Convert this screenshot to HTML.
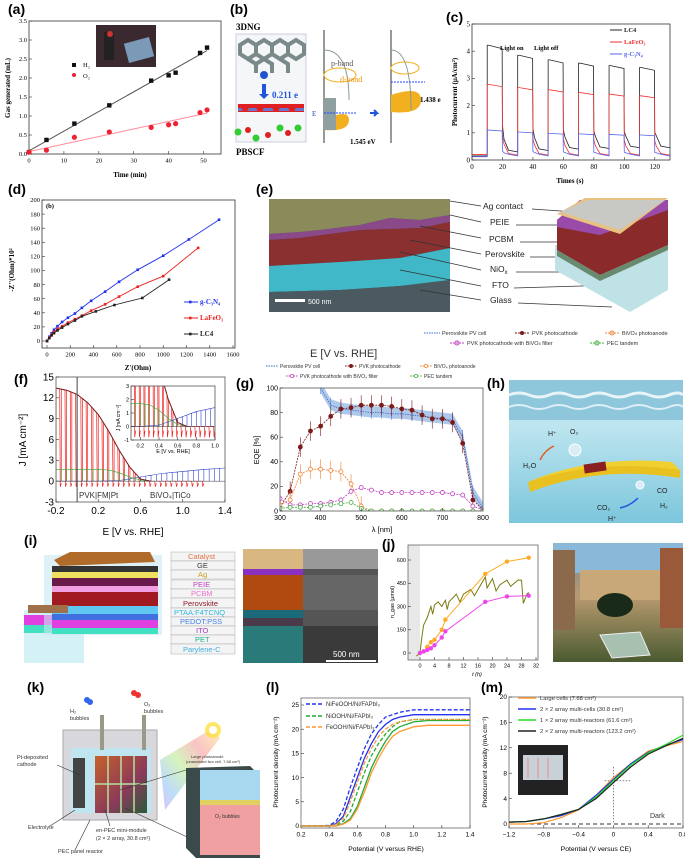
<!DOCTYPE html>
<html><head><meta charset="utf-8"><style>
html,body{margin:0;padding:0;background:#fff;}
svg{display:block;font-family:"Liberation Sans",sans-serif;}
.serif{font-family:"Liberation Serif",serif;}
</style></head><body>
<svg id="fig" width="685" height="858" viewBox="0 0 685 858" xmlns="http://www.w3.org/2000/svg">
<defs>
<linearGradient id="water" x1="0" y1="0" x2="0" y2="1"><stop offset="0" stop-color="#9fd3e6"/><stop offset="0.3" stop-color="#bfe6f0"/><stop offset="1" stop-color="#7cc6dc"/></linearGradient>
<linearGradient id="rainbow" x1="1" y1="0" x2="0" y2="1"><stop offset="0" stop-color="#ffe9a0"/><stop offset="0.3" stop-color="#f8b0b0"/><stop offset="0.55" stop-color="#c8f0a8"/><stop offset="0.8" stop-color="#a8d0f8"/><stop offset="1" stop-color="#d8b0f0"/></linearGradient>
<linearGradient id="module" x1="0" y1="0" x2="1" y2="1"><stop offset="0" stop-color="#c8602a"/><stop offset="0.6" stop-color="#8a3a5a"/><stop offset="1" stop-color="#2a5a3a"/></linearGradient>
<linearGradient id="photo" x1="0" y1="0" x2="0" y2="1"><stop offset="0" stop-color="#6a8a9a"/><stop offset="0.45" stop-color="#b89a70"/><stop offset="1" stop-color="#4a5a30"/></linearGradient>
</defs>

<!-- panel labels -->
<g font-size="14" font-weight="bold">
<text x="8" y="14">(a)</text>
<text x="230" y="14">(b)</text>
<text x="446" y="22">(c)</text>
<text x="8" y="194">(d)</text>
<text x="256" y="194">(e)</text>
<text x="14" y="384">(f)</text>
<text x="236" y="388">(g)</text>
<text x="487" y="388">(h)</text>
<text x="24" y="545">(i)</text>
<text x="382" y="549">(j)</text>
<text x="27" y="692">(k)</text>
<text x="266" y="692">(l)</text>
<text x="481" y="692">(m)</text>
</g>

<!-- (a) inset photo -->
<g>
<rect x="96" y="25" width="60" height="42" fill="#3a2a30"/>
<rect x="126" y="40" width="26" height="20" fill="#7a9ab8" transform="rotate(-15 139 50)"/>
<rect x="104" y="32" width="10" height="28" fill="#222"/>
<circle cx="110" cy="34" r="3" fill="#c33"/>
</g>

<!-- (b) diagram -->
<g class="serif">
<text x="236" y="30" font-size="9" font-weight="bold">3DNG</text>
<rect x="236" y="34" width="70" height="108" fill="#f4f6f8" stroke="#ccd"/>
<g fill="none" stroke="#7a8a8a" stroke-width="4">
<path d="M240 45 l8 -5 l8 5 l0 9 l-8 5 l-8 -5z M256 45 l8 -5 l8 5 l0 9 l-8 5 l-8 -5z M272 45 l8 -5 l8 5 l0 9 l-8 5 l-8 -5z M288 45 l8 -5 l8 5 l0 9 l-8 5 l-8 -5z"/>
<path d="M248 59 l8 5 l0 9 M264 59 l0 0 l8 5 l0 9 M280 59 l8 5 l0 9 M256 64 l8 -5"/>
</g>
<circle cx="264" cy="75" r="4" fill="#2255cc"/>
<path d="M262 84 v10 h-3 l5 5 l5 -5 h-3 v-10z" fill="#2255dd"/>
<text x="272" y="98" font-size="9" font-weight="bold" fill="#2255dd">0.211 e</text>
<rect x="238" y="104" width="66" height="8" fill="#e02020"/>
<rect x="238" y="108" width="66" height="3" fill="#6677cc"/>
<g fill="#e02020"><circle cx="245" cy="108" r="3.5"/><circle cx="260" cy="108" r="3.5"/><circle cx="276" cy="108" r="3.5"/><circle cx="292" cy="108" r="3.5"/><circle cx="248" cy="130" r="3"/><circle cx="268" cy="135" r="3"/><circle cx="288" cy="133" r="3"/></g>
<g fill="#33cc33"><circle cx="238" cy="132" r="3.5"/><circle cx="256" cy="138" r="3.5"/><circle cx="280" cy="128" r="3.5"/><circle cx="298" cy="128" r="3.5"/></g>
<text x="236" y="155" font-size="9" font-weight="bold">PBSCF</text>
<line x1="324" y1="30" x2="324" y2="143" stroke="#333"/>
<path d="M324 120 q25 -12 25 0 q0 12 -25 10z" fill="#f2b01e"/>
<rect x="324" y="98" width="12" height="32" fill="#8fa0a0"/>
<ellipse cx="340" cy="75" rx="16" ry="7" fill="none" stroke="#f2b01e"/>
<path d="M324 50 q25 0 25 50" fill="none" stroke="#8a9a9a"/>
<text x="331" y="66" font-size="8" fill="#555">p-band</text>
<text x="340" y="82" font-size="8" fill="#f29000">d-band</text>
<text x="312" y="116" font-size="7" fill="#2244cc">E</text>
<line x1="324" y1="113" x2="356" y2="113" stroke="#2244ff" stroke-dasharray="2,1"/>
<text x="350" y="144" font-size="7" font-weight="bold">1.545 eV</text>
<path d="M370 113 h7 l-3 -3 M377 113 l-3 3" stroke="#2255dd" stroke-width="2" fill="none"/>
<line x1="391" y1="30" x2="391" y2="143" stroke="#333"/>
<path d="M391 95 q30 -10 30 5 q0 15 -30 12z" fill="#f2b01e"/>
<ellipse cx="405" cy="68" rx="14" ry="6" fill="none" stroke="#f2b01e"/>
<path d="M391 50 q20 0 20 60" fill="none" stroke="#8a9a9a"/>
<line x1="391" y1="82" x2="425" y2="82" stroke="#2244ff" stroke-dasharray="2,1"/>
<text x="420" y="102" font-size="7" font-weight="bold">1.438 e</text>
</g>

<!-- (e) SEM + stack -->
<g>
<rect x="269" y="199" width="181" height="113" fill="#3a4a4a"/>
<path d="M269 199 H450 V215 L420 220 L390 218 L360 225 L320 230 L300 232 L269 234Z" fill="#8a8a5a"/>
<path d="M269 234 L300 232 L320 230 L360 225 L390 218 L420 220 L450 215 V222 L420 228 L360 230 L300 238 L269 240Z" fill="#8a4a8a"/>
<path d="M269 240 L300 238 L360 230 L420 228 L450 222 V248 L400 258 L340 262 L269 266Z" fill="#8a3030"/>
<path d="M269 266 L340 262 L400 258 L450 248 V280 L400 286 L340 290 L269 292Z" fill="#40b8c8"/>
<path d="M269 292 L340 290 L400 286 L450 280 V312 H269Z" fill="#4a5a60"/>
<rect x="275" y="299" width="30" height="3" fill="#fff"/>
<text x="308" y="304" font-size="7" fill="#fff">500 nm</text>
</g>
<g font-size="8.5" fill="#222">
<text x="483" y="209">Ag contact</text><text x="490" y="225">PEIE</text><text x="489" y="242">PCBM</text>
<text x="485" y="257">Perovskite</text><text x="490" y="272">NiO<tspan font-size="6" dy="2">x</tspan></text>
<text x="492" y="288">FTO</text><text x="490" y="303">Glass</text>
</g>
<g stroke="#333" stroke-width="0.7">
<line x1="450" y1="201" x2="481" y2="206"/><line x1="450" y1="215" x2="481" y2="222"/><line x1="420" y1="226" x2="481" y2="238"/>
<line x1="410" y1="240" x2="481" y2="254"/><line x1="400" y1="252" x2="481" y2="270"/><line x1="400" y1="270" x2="481" y2="286"/><line x1="420" y1="290" x2="481" y2="300"/>
<line x1="532" y1="209" x2="590" y2="213"/><line x1="516" y1="225" x2="560" y2="225"/><line x1="520" y1="242" x2="565" y2="242"/>
<line x1="530" y1="257" x2="570" y2="257"/><line x1="516" y1="272" x2="585" y2="272"/><line x1="514" y1="288" x2="650" y2="284"/><line x1="518" y1="303" x2="612" y2="307"/>
</g>
<g>
<path d="M555 245 L668 240 L668 290 L630 312 L555 270Z" fill="#bfe2e6"/>
<path d="M557 220 L580 200 L668 200 L668 245 L600 275 L557 250Z" fill="#8a2a2a"/>
<path d="M557 220 L580 200 L668 200 L668 210 L600 235 L557 227Z" fill="#9a4aa8"/>
<path d="M557 214 L585 198 L668 198 L620 234Z" fill="#e8c080"/>
<path d="M560 212 L588 200 L665 200 L620 230Z" fill="#c8c8c4"/>
<path d="M557 250 L600 275 L668 245 L668 250 L600 281 L557 256Z" fill="#6a8a70"/>
</g>
<g font-size="5.5" fill="#333">
<line x1="424" y1="333" x2="440" y2="333" stroke="#3a6ad0" stroke-dasharray="1.5,1"/><text x="442" y="335">Perovskite PV cell</text>
<line x1="515" y1="333" x2="530" y2="333" stroke="#7a1a1a" stroke-dasharray="2,1"/><circle cx="522" cy="333" r="2" fill="#7a1a1a"/><text x="532" y="335">PVK photocathode</text>
<line x1="605" y1="333" x2="620" y2="333" stroke="#f08030" stroke-dasharray="2,1"/><circle cx="612" cy="333" r="2" fill="none" stroke="#f08030"/><text x="622" y="335">BiVO<tspan font-size="4">4</tspan> photoanode</text>
<line x1="450" y1="343" x2="465" y2="343" stroke="#c040c0" stroke-dasharray="2,1"/><circle cx="457" cy="343" r="2" fill="none" stroke="#c040c0"/><text x="467" y="345">PVK photocathode with BiVO<tspan font-size="4">4</tspan> filter</text>
<line x1="590" y1="343" x2="605" y2="343" stroke="#40b040" stroke-dasharray="2,1"/><circle cx="597" cy="343" r="2" fill="none" stroke="#40b040"/><text x="607" y="345">PEC tandem</text>
</g>
<text x="310" y="357" font-size="11" fill="#333">E [V vs. RHE]</text>

<!-- (h) illustration -->
<g>
<rect x="509" y="380" width="174" height="143" fill="url(#water)"/>
<rect x="509" y="380" width="174" height="40" fill="#8ec6dc"/>
<path d="M509 395 q10 -4 20 0 t20 0 t20 0 t20 0 t20 0 t20 0 t20 0 t20 0 t14 0" stroke="#fff" stroke-width="3" fill="none" opacity="0.8"/>
<path d="M509 407 q10 -4 20 0 t20 0 t20 0 t20 0 t20 0 t20 0 t20 0 t20 0 t14 0" stroke="#fff" stroke-width="2" fill="none" opacity="0.7"/>
<path d="M528 482 Q600 455 680 470 L680 478 Q600 465 530 492Z" fill="#e8c020"/>
<path d="M528 482 Q590 455 672 462 L680 470 Q600 458 528 482Z" fill="#f0d030"/>
<rect x="584" y="463" width="22" height="9" fill="#8a2020" transform="rotate(-8 595 467)"/>
<circle cx="575" cy="450" r="6" fill="#d8eef4" stroke="#fff"/>
<circle cx="640" cy="485" r="4" fill="#d8eef4" stroke="#fff"/>
<g font-size="7" fill="#222"><text x="548" y="436">H⁺</text><text x="570" y="434">O₂</text><text x="523" y="468">H₂O</text><text x="657" y="493">CO</text><text x="597" y="510">CO₂</text><text x="660" y="508">H₂</text><text x="608" y="521">H⁺</text></g>
<path d="M540 460 q5 -10 14 -14" stroke="#e06020" stroke-width="1.5" fill="none"/>
<path d="M620 508 q10 -2 18 -10" stroke="#2255dd" stroke-width="1.5" fill="none"/>
</g>

<!-- (i) device stack -->
<g>
<rect x="24" y="610" width="60" height="53" fill="#b8e8f0" opacity="0.6"/>
<rect x="24" y="615" width="60" height="10" fill="#e040e0"/>
<rect x="24" y="625" width="60" height="8" fill="#40e0c0"/>
<rect x="44" y="555" width="118" height="80" fill="#c8e8f0" opacity="0.6"/>
<rect x="52" y="566" width="106" height="6" fill="#333"/>
<rect x="52" y="572" width="106" height="6" fill="#f0e060"/>
<rect x="52" y="578" width="106" height="8" fill="#6a1a4a"/>
<rect x="52" y="586" width="106" height="6" fill="#f0a0e0"/>
<rect x="52" y="592" width="106" height="14" fill="#a01a20"/>
<rect x="52" y="606" width="106" height="8" fill="#60c8f0"/>
<rect x="52" y="614" width="106" height="6" fill="#4070e0"/>
<rect x="52" y="620" width="106" height="8" fill="#e040e0"/>
<rect x="52" y="628" width="106" height="6" fill="#40e0c0"/>
<path d="M54 560 L70 552 L150 552 L155 562 L60 566Z" fill="#b06a2a"/>
<rect x="28" y="605" width="40" height="8" fill="#a0704a"/>
</g>
<g font-size="7.5">
<g fill="#f4f4f4" stroke="#aaa" stroke-width="0.5">
<rect x="171" y="552" width="64" height="9"/><rect x="171" y="561" width="64" height="9"/><rect x="171" y="570" width="64" height="9"/><rect x="171" y="580" width="64" height="9"/><rect x="171" y="589" width="64" height="9"/><rect x="171" y="598" width="64" height="10"/><rect x="171" y="608" width="64" height="9"/><rect x="171" y="617" width="64" height="9"/><rect x="171" y="626" width="64" height="9"/><rect x="171" y="635" width="64" height="9"/><rect x="171" y="644" width="64" height="10"/>
</g>
<text x="188" y="559" fill="#e07040">Catalyst</text><text x="197" y="568" fill="#333">GE</text><text x="198" y="577" fill="#c8a020">Ag</text>
<text x="193" y="587" fill="#c040c0">PEIE</text><text x="191" y="596" fill="#f070d0">PCBM</text><text x="183" y="606" fill="#8a1a2a">Perovskite</text>
<text x="174" y="615" fill="#30b8e0">PTAA:F4TCNQ</text><text x="180" y="624" fill="#4080e0">PEDOT:PSS</text><text x="196" y="633" fill="#a040c0">ITO</text>
<text x="195" y="642" fill="#20b090">PET</text><text x="183" y="652" fill="#40b0e0">Parylene-C</text>
</g>
<g>
<rect x="243" y="549" width="135" height="114" fill="#555"/>
<rect x="243" y="549" width="60" height="20" fill="#d8b880"/>
<rect x="303" y="549" width="75" height="20" fill="#999"/>
<rect x="243" y="569" width="60" height="6" fill="#8a30c0"/>
<rect x="243" y="575" width="60" height="35" fill="#b04a10"/>
<rect x="303" y="575" width="75" height="35" fill="#666"/>
<rect x="243" y="610" width="60" height="8" fill="#1a6a7a"/>
<rect x="243" y="618" width="60" height="8" fill="#4a3a4a"/>
<rect x="243" y="626" width="60" height="37" fill="#2a7a7a"/>
<rect x="303" y="626" width="75" height="37" fill="#3a3a3a"/>
<rect x="326" y="660" width="50" height="2" fill="#fff"/>
<text x="333" y="657" font-size="8" fill="#fff">500 nm</text>
</g>

<!-- (j) photo -->
<g>
<rect x="553" y="543" width="130" height="119" fill="url(#photo)"/>
<rect x="553" y="543" width="130" height="30" fill="#8ab8d8"/>
<rect x="580" y="570" width="80" height="30" fill="#c8a878"/>
<ellipse cx="615" cy="605" rx="18" ry="12" fill="#1a2a1a"/>
<rect x="553" y="550" width="22" height="80" fill="#8a6a4a"/>
<rect x="660" y="548" width="23" height="80" fill="#9a5a3a"/>
<path d="M600 635 L640 632 L650 655 L612 658Z" fill="#a8c0b0" stroke="#eee"/>
</g>

<!-- (k) illustration -->
<g>
<polygon points="160,760 213,728 220,738 165,810" fill="url(#rainbow)" opacity="0.75"/>
<circle cx="213" cy="730" r="8" fill="#ffe040" opacity="0.8"/>
<circle cx="213" cy="730" r="4" fill="#fff"/>
<rect x="63" y="730" width="94" height="90" fill="#d8d8dc" stroke="#aaa"/>
<rect x="71" y="748" width="80" height="65" fill="#bfe6f0"/>
<rect x="73" y="758" width="12" height="50" fill="#444"/>
<rect x="95" y="756" width="52" height="57" fill="url(#module)"/>
<g stroke="#b8e0a0" stroke-width="1.5"><line x1="121" y1="756" x2="121" y2="813"/><line x1="95" y1="784" x2="147" y2="784"/><line x1="108" y1="756" x2="108" y2="813"/><line x1="134" y1="756" x2="134" y2="813"/></g>
<rect x="100" y="715" width="4" height="35" fill="#998"/><rect x="142" y="715" width="4" height="35" fill="#998"/>
<circle cx="87" cy="700" r="3" fill="#3366ee"/><circle cx="90" cy="702" r="3" fill="#3366ee"/>
<circle cx="134" cy="693" r="3" fill="#ee3333"/><circle cx="138" cy="695" r="3" fill="#ee3333"/>
<g font-size="5.5" fill="#333"><text x="70" y="713">H₂</text><text x="70" y="720">bubbles</text><text x="144" y="706">O₂</text><text x="144" y="713">bubbles</text>
<text x="17" y="759">Pt-deposited</text><text x="17" y="766">cathode</text><text x="28" y="829">Electrolyte</text>
<text x="96" y="832">en-PEC mini-module</text><text x="96" y="840">(2 × 2 array, 30.8 cm²)</text><text x="58" y="853">PEC panel reactor</text>
<text x="191" y="758" font-size="4">Large photoanode</text><text x="186" y="763" font-size="4">(unassisted two cell, 7.68 cm²)</text></g>
<g stroke="#333" stroke-width="0.6"><line x1="57" y1="765" x2="80" y2="775"/><line x1="50" y1="826" x2="75" y2="810"/><line x1="110" y1="826" x2="105" y2="810"/><line x1="75" y1="850" x2="90" y2="820"/><line x1="120" y1="790" x2="186" y2="770"/><line x1="125" y1="808" x2="215" y2="850"/></g>
<polygon points="186,768 250,766 260,776 260,858 196,858 186,848" fill="#3a4a4a"/>
<rect x="200" y="770" width="60" height="30" fill="#a8d8f0"/>
<rect x="200" y="800" width="60" height="5" fill="#e0d060"/>
<rect x="200" y="805" width="60" height="50" fill="#f0a0a0"/>
<text x="215" y="818" font-size="5" fill="#333">O₂ bubbles</text>
</g>
<g>
<rect x="518" y="745" width="50" height="50" fill="#222"/>
<rect x="523" y="755" width="40" height="25" fill="#c8d0d8"/>
<g stroke="#e88" stroke-width="1"><line x1="528" y1="758" x2="528" y2="778"/><line x1="538" y1="758" x2="538" y2="778"/><line x1="548" y1="758" x2="548" y2="778"/></g>
</g>

<g id="charts"></g>
</svg>
<script>
// ---------- data ----------
const aTime=[0,5,13,23,35,40,42,49,51];
const aH2=[0.05,0.37,0.8,1.28,1.93,2.07,2.14,2.66,2.8];
const aO2=[0.05,0.1,0.44,0.58,0.7,0.77,0.8,1.09,1.16];
const aXTicks=[0,10,20,30,40,50];
const aYTicks=[0,0.5,1.0,1.5,2.0,2.5,3.0,3.5];

const cOnTimes=[10,30,50,70,90,110];
const cLC4On=[4.22,3.85,3.68,3.56,3.47,3.4];
const cLC4Off=[0.15,0.3,0.35,0.4,0.42,0.45];
const cLaOn=[2.78,2.66,2.58,2.48,2.42,2.36];
const cLaOff=[0.2,0.18,0.18,0.18,0.18,0.18];
const cGOn=[1.1,1.03,0.98,0.96,0.94,0.92];
const cGOff=[0.12,0.15,0.15,0.15,0.15,0.15];
const cXTicks=[0,20,40,60,80,100,120];
const cYTicks=[0,1,2,3,4,5];

const dG_x=[0,20,40,60,90,130,180,240,300,380,500,620,780,1000,1220,1480];
const dG_y=[0,6,11,16,21,27,33,39,47,57,70,84,101,121,144,172];
const dLa_x=[0,20,40,60,90,130,180,240,300,380,500,620,780,1000,1300];
const dLa_y=[0,5,9,13,17,21,26,31,36,43,52,63,77,92,132];
const dLC_x=[0,20,40,60,90,130,180,240,300,420,580,820,1050];
const dLC_y=[0,4,8,11,15,19,24,29,35,42,51,61,87];
const dXTicks=[0,200,400,600,800,1000,1200,1400,1600];
const dYTicks=[0,20,40,60,80,100,120,140,160,180,200];

const fE=[-0.2,-0.1,0,0.1,0.2,0.3,0.4,0.5,0.6,0.7];
const fBrown=[13.4,13.1,12.5,11.3,9.6,7.2,4.4,2.0,0.3,0];
const fBlueE=[-0.2,0.2,0.4,0.6,0.8,1.0,1.2,1.4];
const fBlue=[0,0,0.1,0.6,1.1,1.4,1.7,1.9];
const fGreenE=[-0.2,0.2,0.3,0.4,0.5,0.6,0.7];
const fGreen=[1.7,1.7,1.6,1.2,0.6,0.15,0];
const fXTicks=[-0.2,0.2,0.6,1.0,1.4];
const fYTicks=[-3,0,3,6,9,12,15];

const gWl=[300,325,350,375,400,425,450,475,500,525,550,575,600,625,650,675,700,725,750,775,800];
const gPV=[null,null,null,null,100,86,83,82,81,80,80,79,79,78,77,76,75,74,60,15,2];
const gPVK=[3,16,52,65,69,77,83,84,86,86,86,85,83,82,78,75,75,72,55,9,1];
const gBiVO4=[5,9,30,34,34,33,32,22,4,0,0,0,0,0,0,0,0,0,0,0,0];
const gFilter=[10,5,5,6,6,7,9,16,19,17,15,15,15,15,15,15,15,14,13,4,1];
const gTandem=[2,3,3,3,4,5,6,7,2,0,0,0,0,0,0,0,0,0,0,0,0];
const gXTicks=[300,400,500,600,700,800];
const gYTicks=[0,20,40,60,80,100];

const jT1=[0,1,2,3,4,6,7,18,24,30];
const jOrange=[0,10,40,70,85,150,215,510,590,615];
const jPink=[0,10,20,30,50,100,140,330,365,370];
const jOliveT=[-1,0,0.5,1,2,3,3.5,4,5,6,7,7.5,8,10,11,12,14,15,16,18,18.5,20,21,22,24,25,27,28,28.5,29.5,30];
const jOlive=[-20,0,100,180,230,300,250,310,330,300,340,280,330,380,330,380,410,370,410,490,420,480,400,440,470,430,470,470,320,380,390];
const jXTicks=[0,4,8,12,16,20,24,28,32];
const jYTicks=[0,150,300,450,600];

const lE=[0.2,0.4,0.45,0.5,0.55,0.6,0.65,0.7,0.75,0.8,0.85,0.9,1.0,1.1,1.2,1.4];
const lBlueS=[0,0,0.5,2,6,10,14,17,19.5,21,22,22.5,23,23,23,23];
const lBlueD=[0,0.1,1,3.5,8,12,16,19,21,22.5,23,23.5,24,24,24,24];
const lGreenS=[0,0,0,0.5,1.5,4,8,12,15,17.5,19.5,20.5,21.5,21.8,21.8,21.8];
const lGreenD=[0,0,0.2,1,3,7,11,14.5,17,19,20.5,21.5,22,22,22,22];
const lOrangeS=[0,0,0,0.4,1.2,3.5,7,11,14,16.5,18.5,19.5,20.5,20.8,20.8,20.8];
const lOrangeD=[0,0,0.3,1.5,5,9,13,16,18.5,20,21,21.5,22,22,22,22];
const lXTicks=[0.2,0.4,0.6,0.8,1.0,1.2,1.4];
const lYTicks=[0,5,10,15,20,25];

const mV=[-1.2,-1.0,-0.8,-0.6,-0.4,-0.2,0,0.2,0.4,0.6,0.8];
const mOrange=[0,0,0.2,1,2.2,4.5,7.3,9.5,11.5,12.3,13];
const mBlue=[0.3,0.4,0.8,1.3,2.3,4.5,7,9.5,11.3,12.4,13.3];
const mGreen=[0.3,0.4,0.8,1.5,2.3,4.2,6.8,9.3,11.2,12.5,14];
const mBlack=[0.3,0.4,0.8,1.5,2.3,4,6.5,9,11,12.3,13.5];
const mXTicks=[-1.2,-0.8,-0.4,0,0.4,0.8];
const mYTicks=[0,4,8,12,16,20];

// ---------- helpers ----------
const NS="http://www.w3.org/2000/svg";
const root=document.getElementById('charts');
function mk(tag,attrs,parent){const e=document.createElementNS(NS,tag);for(const k in attrs)e.setAttribute(k,attrs[k]);(parent||root).appendChild(e);return e;}
function scale(d0,d1,r0,r1){return v=>r0+(v-d0)*(r1-r0)/(d1-d0);}
function pathFrom(xs,ys,X,Y){let d='';let first=true;for(let i=0;i<xs.length;i++){if(ys[i]==null)continue;d+=(first?'M':'L')+X(xs[i]).toFixed(1)+' '+Y(ys[i]).toFixed(1);first=false;}return d;}
function frame(g,x0,y0,x1,y1,X,Y,xt,yt,opt){
  const r=mk('rect',{x:x0,y:y0,width:x1-x0,height:y1-y0,fill:'none',stroke:opt.stroke||'#333','stroke-width':opt.sw||0.8},g);
  
  
  xt.forEach(t=>{const x=X(t);mk('line',{x1:x,x2:x,y1:y1,y2:y1-3,stroke:'#333','stroke-width':0.6},g);
    const tx=mk('text',{x:x,y:y1+(opt.fs||7)+2,'font-size':opt.fs||7,'text-anchor':'middle',class:opt.cls||''},g);tx.textContent=opt.xf?opt.xf(t):t;
    
    });
  yt.forEach(t=>{const y=Y(t);mk('line',{x1:x0,x2:x0+3,y1:y,y2:y,stroke:'#333','stroke-width':0.6},g);
    const tx=mk('text',{x:x0-2,y:y+(opt.fs||7)/3,'font-size':opt.fs||7,'text-anchor':'end',class:opt.cls||''},g);tx.textContent=opt.yf?opt.yf(t):t;
    
    });
}
function label(g,txt,x,y,fs,opt){const t=mk('text',Object.assign({x:x,y:y,'font-size':fs},opt||{}),g);t.textContent=txt;return t;}
function line(g,d,color,w,dash){const p=mk('path',{d:d,fill:'none',stroke:color,'stroke-width':w||1,'stroke-dasharray':dash||'none'},g);return p;}
function dots(g,xs,ys,X,Y,color,shape,r,fill){const out=[];xs.forEach((x,i)=>{if(ys[i]==null)return;let e;
  if(shape==='sq')e=mk('rect',{x:X(x)-r,y:Y(ys[i])-r,width:2*r,height:2*r,fill:color},g);
  else e=mk('circle',{cx:X(x),cy:Y(ys[i]),r:r,fill:fill||color,stroke:color,'stroke-width':0.8},g);out.push(e);});return out;}
function lin(xs,ys){const n=xs.length;let sx=0,sy=0,sxx=0,sxy=0;for(let i=0;i<n;i++){sx+=xs[i];sy+=ys[i];sxx+=xs[i]*xs[i];sxy+=xs[i]*ys[i];}const b=(n*sxy-sx*sy)/(n*sxx-sx*sx);return [b,(sy-b*sx)/n];}
function interp(xs,ys,x){if(x<=xs[0])return ys[0];for(let i=1;i<xs.length;i++){if(x<=xs[i]){const t=(x-xs[i-1])/(xs[i]-xs[i-1]);return ys[i-1]+t*(ys[i]-ys[i-1]);}}return ys[ys.length-1];}

// ---------- (a) ----------
(function(){
const g=mk('g',{class:'serif'});


const X=scale(0,55,29,221),Y=scale(0,3.5,154,21);
frame(g,29,21,221,154,X,Y,aXTicks,aYTicks,{name:'a',cls:'serif',fs:6.5,yf:t=>t.toFixed(1)});
[[aH2,'#555','sq','h2'],[aO2,'#ff8a9a','c','o2']].forEach(([ys,col,sh,nm])=>{
  const [b,a]=lin(aTime,ys);
  const l=line(g,'M'+X(0)+' '+Y(a)+'L'+X(51)+' '+Y(a+b*51),col,1);
  
  
  dots(g,aTime,ys,X,Y,sh==='sq'?'#111':'#ee2233',sh,2.2).forEach(e=>{
    
    });
});
mk('rect',{x:72,y:63,width:4,height:4,fill:'#111'},g);label(g,'H₂',83,67,6.5);
mk('circle',{cx:74,cy:75,r:2,fill:'#e23'},g);label(g,'O₂',83,78,6.5);
const yl=label(g,'Gas generated (mL)',10,88,7,{transform:'rotate(-90 10 88)','text-anchor':'middle','font-weight':'bold'});


const xl=label(g,'Time (min)',130,177,7,{'text-anchor':'middle','font-weight':'bold'});


})();

// ---------- (c) ----------
(function(){
const g=mk('g',{class:'serif'});


const X=scale(0,130,472,670),Y=scale(0,5,160,24);
frame(g,472,24,670,160,X,Y,cXTicks,cYTicks,{name:'c',cls:'serif',fs:7});
function series(on,off,col,nm){
  let d='M'+X(0)+' '+Y(off[0]);
  cOnTimes.forEach((t,i)=>{
    d+='L'+X(t)+' '+Y(off[i])+'L'+X(t)+' '+Y(on[i]*1.0)+'L'+X(t+1)+' '+Y(on[i])+'L'+X(t+9.8)+' '+Y(on[i]*0.97)+'L'+X(t+10)+' '+Y(on[i]*0.3);
    const nxt=(i+1<off.length?off[i+1]:off[i]);
    d+='L'+X(t+11)+' '+Y(off[i]+(on[i]-off[i])*0.15)+'L'+X(t+14)+' '+Y(nxt+0.06)+'L'+X(Math.min(t+20,130))+' '+Y(nxt);
  });
  const p=line(g,d,col,0.8);
  
  
}
series(cLC4On,cLC4Off,'#222','lc4');
series(cLaOn,cLaOff,'#ee3333','lafeo3');
series(cGOn,cGOff,'#5566ee','gc3n4');
[['LC4','#222',32],['LaFeO₃','#ee3333',44],['g-C₃N₄','#5566ee',56]].forEach(([t,c,y])=>{
  mk('line',{x1:610,x2:622,y1:y-2,y2:y-2,stroke:c},g);
  const e=label(g,t,624,y,6.5,{fill:c,'font-weight':'bold'});
  
  });
label(g,'Light on',500,50,6.5,{'font-weight':'bold'});label(g,'Light off',534,50,6.5,{'font-weight':'bold'});
const yl=label(g,'Photocurrent (μA/cm²)',457,92,7,{transform:'rotate(-90 457 92)','text-anchor':'middle','font-weight':'bold'});


const xl=label(g,'Times (s)',570,183,7,{'text-anchor':'middle','font-weight':'bold'});


})();

// ---------- (d) ----------
(function(){
const g=mk('g',{class:'serif'});


const X=scale(0,1600,47,233),Y=scale(0,200,341,200);
frame(g,42,200,235,348,X,Y,dXTicks,dYTicks,{name:'d',cls:'serif',fs:6.5});
[[dG_x,dG_y,'#2233ee','gc3n4'],[dLa_x,dLa_y,'#ee2222','lafeo3'],[dLC_x,dLC_y,'#222','lc4']].forEach(([xs,ys,c,nm])=>{
  const p=line(g,pathFrom(xs,ys,X,Y),c,0.9);
  
  
  dots(g,xs,ys,X,Y,c,'sq',1.3).forEach(e=>{
    
    });
});
label(g,'(b)',46,208,6.5,{'font-weight':'bold'});
[['g-C₃N₄','#2233ee',304],['LaFeO₃','#ee2222',320],['LC4','#222',336]].forEach(([t,c,y])=>{
  mk('line',{x1:184,x2:198,y1:y-2,y2:y-2,stroke:c},g);mk('rect',{x:189,y:y-3.3,width:2.6,height:2.6,fill:c},g);
  const e=label(g,t,200,y,7,{fill:c,'font-weight':'bold'});
  
  });
const yl=label(g,"-Z''(Ohm)*10²",14,270,7,{transform:'rotate(-90 14 270)','text-anchor':'middle','font-weight':'bold'});


const xl=label(g,"Z'(Ohm)",138,370,7,{'text-anchor':'middle','font-weight':'bold'});


})();

// ---------- (f) ----------
(function(){
const g=mk('g');


function draw(x0,y0,x1,y1,xmin,xmax,ymin,ymax,xt,yt,fs,name){
  const X=scale(xmin,xmax,x0,x1),Y=scale(ymin,ymax,y1,y0);
  const cp=mk('clipPath',{id:'clip-'+name},g);mk('rect',{x:x0,y:y0,width:x1-x0,height:y1-y0},cp);
  const h=mk('g',{'clip-path':'url(#clip-'+name+')'},g);
  // red chopped
  let d='';for(let e=-0.2;e<1.2;e+=0.05){const v=interp(fE,fBrown,e);d+='M'+X(e)+' '+Y(0)+'L'+X(e)+' '+Y(v)+'L'+X(e+0.035)+' '+Y(interp(fE,fBrown,e+0.035))+'L'+X(e+0.04)+' '+Y(-0.8)+'L'+X(e+0.05)+' '+Y(-0.3);}
  const r=line(h,d,'#ee2222',0.7);
  let db='';for(let e=-0.2;e<1.4;e+=0.05){const v=interp(fBlueE,fBlue,e);db+='M'+X(e)+' '+Y(0)+'L'+X(e)+' '+Y(v);}
  const b=line(h,db+pathFrom(fBlueE,fBlue,X,Y),'#3344cc',0.6);
  let dg='';for(let e=-0.2;e<0.7;e+=0.05){const v=interp(fGreenE,fGreen,e);dg+='M'+X(e)+' '+Y(0)+'L'+X(e)+' '+Y(v);}
  const gr=line(h,dg+pathFrom(fGreenE,fGreen,X,Y),'#33aa33',0.6);
  const br=line(h,pathFrom(fE,fBrown,X,Y),'#7a2020',1);
  line(h,'M'+x0+' '+Y(0)+'H'+x1,'#333',0.5);
  frame(g,x0,y0,x1,y1,X,Y,xt,yt,{name:name,fs:fs,xf:t=>t.toFixed(1),stroke:'#555'});
  return [X,Y];
}
const [X,Y]=draw(56,377,225,502,-0.2,1.4,-3,15,fXTicks,fYTicks,10,'f');
line(g,'M'+X(0)+' 377V502','#444',1);
mk('rect',{x:131,y:385,width:85,height:55,fill:'#fff'},g);
draw(131,386,215,440,0.1,1.0,-1,3,[0.2,0.4,0.6,0.8,1.0],[-1,0,1,2,3],5.5,'f-inset');
label(g,'J [mA cm⁻²]',120,418,5,{transform:'rotate(-90 120 418)','text-anchor':'middle'});
label(g,'E [V vs. RHE]',173,453,5.5,{'text-anchor':'middle'});
label(g,'PVK|FM|Pt',79,498,8,{fill:'#333'});label(g,'BiVO₄|TiCo',150,498,8,{fill:'#333'});
const yl=label(g,'J [mA cm⁻²]',26,440,10,{transform:'rotate(-90 26 440)','text-anchor':'middle'});


const xl=label(g,'E [V vs. RHE]',133,535,10,{'text-anchor':'middle'});


})();

// ---------- (g) ----------
(function(){
const g=mk('g');


const X=scale(300,800,280,483),Y=scale(0,100,511,388);
const cp=mk('clipPath',{id:'clip-g'},g);mk('rect',{x:280,y:388,width:203,height:123},cp);
const h=mk('g',{'clip-path':'url(#clip-g)'},g);
let up='',lo='';const xs=[],ys=[];
gWl.forEach((w,i)=>{if(gPV[i]==null)return;xs.push(w);ys.push(gPV[i]);});
const band=mk('path',{d:pathFrom(xs,ys.map(v=>v+5),X,Y)+xs.slice().reverse().map((w,i)=>'L'+X(w)+' '+Y(ys[ys.length-1-i]-4)).join('')+'Z',fill:'#8ab0e0',opacity:0.7},h);


xs.forEach((w,i)=>{mk('line',{x1:X(w),x2:X(w),y1:Y(ys[i]+6),y2:Y(ys[i]-5),stroke:'#3a6ad0','stroke-width':0.5},h);});
const pv=line(h,pathFrom(xs,ys,X,Y),'#3a6ad0',0.8,'1.5,1');


[[gPVK,'#7a1a1a','pvk',null,8],[gBiVO4,'#f08030','bivo4','#fff',8],[gFilter,'#c040c0','filter','#fff',2],[gTandem,'#40b040','tandem','#fff',2]].forEach(([ys,c,nm,fill,err])=>{
  gWl.forEach((w,i)=>{if(ys[i]>1)mk('line',{x1:X(w),x2:X(w),y1:Y(ys[i]+err),y2:Y(ys[i]-err),stroke:c,'stroke-width':0.6},h);});
  const p=line(h,pathFrom(gWl,ys,X,Y),c,0.8,'2,1');
  
  
  dots(h,gWl,ys,X,Y,c,'c',2,fill).forEach(e=>{
    
    });
});
frame(g,280,388,483,511,X,Y,gXTicks,gYTicks,{name:'g',fs:7,stroke:'#555'});
[['Perovskite PV cell','#3a6ad0',266,368,null],['PVK photocathode','#7a1a1a',345,368,'#7a1a1a'],['BiVO₄ photoanode','#f08030',420,368,'#fff'],['PVK photocathode with BiVO₄ filter','#c040c0',286,378,'#fff'],['PEC tandem','#40b040',410,378,'#fff']].forEach(([t,c,x,y,f])=>{
  mk('line',{x1:x,x2:x+12,y1:y-2,y2:y-2,stroke:c,'stroke-dasharray':'1.5,1'},g);if(f)mk('circle',{cx:x+6,cy:y-2,r:1.6,fill:f,stroke:c,'stroke-width':0.7},g);
  const e=label(g,t,x+14,y,5,{fill:'#333'});
  
  });
const yl=label(g,'EQE [%]',259,450,7.5,{transform:'rotate(-90 259 450)','text-anchor':'middle'});


const xl=label(g,'λ [nm]',382,532,7.5,{'text-anchor':'middle'});


})();

// ---------- (j) ----------
(function(){
const g=mk('g');


const X=scale(0,32,420,536),Y=scale(0,600,653,560);
mk('rect',{x:408,y:545,width:12,height:115,fill:'#e8e8e8'},g);
frame(g,408,545,538,660,X,Y,jXTicks,jYTicks,{name:'j',fs:5.5,stroke:'#666'});
const o=line(g,pathFrom(jOliveT,jOlive,X,Y),'#7a7a10',1);


[[jOrange,'#ffaa22','orange'],[jPink,'#ee44ee','pink']].forEach(([ys,c,nm])=>{
  const p=line(g,pathFrom(jT1,ys,X,Y),c,1);
  
  
  dots(g,jT1,ys,X,Y,c,'c',1.8).forEach(e=>{
    
    });
});
const yl=label(g,'n_gas (μmol)',394,602,5.5,{transform:'rotate(-90 394 602)','text-anchor':'middle'});


const xl=label(g,'t (h)',477,676,5.5,{'text-anchor':'middle','font-style':'italic'});


})();

// ---------- (l) ----------
(function(){
const g=mk('g');


const X=scale(0.2,1.4,301,470),Y=scale(0,25,826,705);
frame(g,301,698,470,828,X,Y,lXTicks,lYTicks,{name:'l',fs:6.5,xf:t=>t.toFixed(1),stroke:'#666'});
[[lBlueD,'#2233ee','4,2','blue-dashed'],[lBlueS,'#2233ee',null,'blue-solid'],[lGreenD,'#22aa33','4,2','green-dashed'],[lGreenS,'#22aa33',null,'green-solid'],[lOrangeD,'#ff9933','4,2','orange-dashed'],[lOrangeS,'#ff9933',null,'orange-solid']].forEach(([ys,c,dash,nm])=>{
  const p=line(g,pathFrom(lE,ys,X,Y),c,1.3,dash);
  
  
});
[['NiFeOOH/Ni/FAPbI₃','#2233ee',706],['NiOOH/Ni/FAPbI₃','#22aa33',718],['FeOOH/Ni/FAPbI₃','#ff9933',729]].forEach(([t,c,y])=>{
  mk('line',{x1:306,x2:322,y1:y-2,y2:y-2,stroke:c,'stroke-width':1.5,'stroke-dasharray':'4,2'},g);
  const e=label(g,t,326,y,6,{fill:'#333'});
  
  });
const yl=label(g,'Photocurrent density (mA cm⁻²)',278,762,6.5,{transform:'rotate(-90 278 762)','text-anchor':'middle'});


const xl=label(g,'Potential (V versus RHE)',386,851,6.8,{'text-anchor':'middle'});


})();

// ---------- (m) ----------
(function(){
const g=mk('g');


const X=scale(-1.2,0.8,509,683),Y=scale(0,20,824,697);
frame(g,509,697,683,828,X,Y,mXTicks,mYTicks,{name:'m',fs:6.5,xf:t=>t.toFixed(1).replace('-','−').replace('0.0','0'),stroke:'#666'});
line(g,'M'+X(-1.2)+' '+Y(0)+'H683','#333',1,'4,3');
line(g,'M'+X(0)+' '+Y(9)+'V824','#333',0.6,'1.5,1.5');
line(g,'M'+X(-0.1)+' '+Y(6.8)+'H'+X(0.2),'#333',0.6,'1.5,1.5');
[[mOrange,'#ff9933','orange'],[mBlue,'#2233ee','blue'],[mGreen,'#22dd22','green'],[mBlack,'#222','black']].forEach(([ys,c,nm])=>{
  const p=line(g,pathFrom(mV,ys,X,Y),c,1.2);
  
  
});
[['Large cells (7.68 cm²)','#ff9933',700],['2 × 2 array multi-cells (30.8 cm²)','#2233ee',711],['1 × 2 array multi-reactors (61.6 cm²)','#22dd22',722],['2 × 2 array multi-reactors (123.2 cm²)','#222',733]].forEach(([t,c,y])=>{
  mk('line',{x1:518,x2:536,y1:y-2,y2:y-2,stroke:c,'stroke-width':1.5},g);
  const e=label(g,t,540,y,5.8,{fill:'#333'});
  
  });
label(g,'Dark',650,818,7,{fill:'#333'});
const yl=label(g,'Photocurrent density (mA cm⁻²)',487,762,6.5,{transform:'rotate(-90 487 762)','text-anchor':'middle'});


const xl=label(g,'Potential (V versus CE)',596,851,6.8,{'text-anchor':'middle'});


})();
</script>
</body></html>
